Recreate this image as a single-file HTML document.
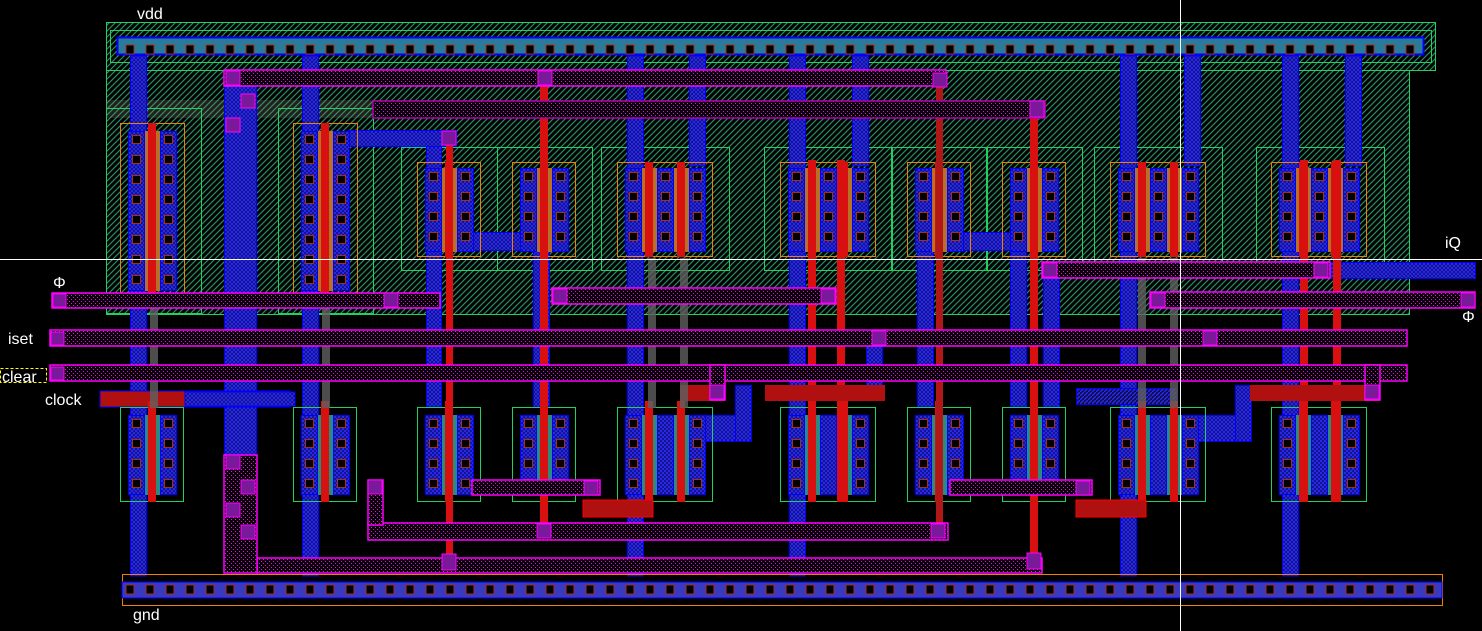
<!DOCTYPE html>
<html><head><meta charset="utf-8"><style>
html,body{margin:0;padding:0;background:#000;width:1482px;height:631px;overflow:hidden}
svg{display:block}
text{font-family:"Liberation Sans",sans-serif;fill:#fff;font-size:16px}
</style></head><body>
<svg width="1482" height="631" viewBox="0 0 1482 631" xmlns="http://www.w3.org/2000/svg">
<defs>
<pattern id="nw" width="6" height="6" patternUnits="userSpaceOnUse"><rect width="6" height="6" fill="#000"/><path d="M0,6L6,0M-1,1L1,-1M5,7L7,5" stroke="#2a8a62" stroke-width="1.2"/></pattern>
<pattern id="m1" width="4" height="4" patternUnits="userSpaceOnUse"><rect width="4" height="4" fill="#0c0c70"/><path d="M0,4L4,0M0,0L4,4" stroke="#2a2af0" stroke-width="1"/></pattern>
<pattern id="m2" width="4" height="4" patternUnits="userSpaceOnUse"><rect width="4" height="4" fill="#101050"/><path d="M0,4L4,0" stroke="#2a2aff" stroke-width="1.2"/></pattern>
<pattern id="mg" width="4" height="4" patternUnits="userSpaceOnUse"><rect width="4" height="4" fill="#000"/><rect x="1" y="1" width="1" height="1" fill="#f0f"/><rect x="3" y="3" width="1" height="1" fill="#f0f"/></pattern>
<pattern id="ct" width="20" height="20" patternUnits="userSpaceOnUse"><rect x="6" y="5" width="8" height="9" fill="#000" stroke="#a03020" stroke-width="1"/></pattern>

<g id="cc" fill="#000" stroke="#a03020">
<rect x="0.5" y="0.5" width="8" height="8"/><rect x="0.5" y="20.5" width="8" height="8"/><rect x="0.5" y="40.5" width="8" height="8"/><rect x="0.5" y="60.5" width="8" height="8"/>
</g>
<g id="cct" fill="#000" stroke="#a03020">
<rect x="0.5" y="0.5" width="8" height="8"/><rect x="0.5" y="20.5" width="8" height="8"/><rect x="0.5" y="40.5" width="8" height="8"/><rect x="0.5" y="60.5" width="8" height="8"/>
<rect x="0.5" y="80.5" width="8" height="8"/><rect x="0.5" y="100.5" width="8" height="8"/><rect x="0.5" y="120.5" width="8" height="8"/><rect x="0.5" y="140.5" width="8" height="8"/>
</g>

<g id="p1">
<rect x="0.5" y="0.5" width="63" height="94" fill="none" stroke="#f08000"/>
<rect x="8" y="6" width="48" height="84" fill="#b87028"/>
<rect x="8.5" y="6.5" width="16" height="83" fill="url(#m1)" stroke="#00f"/>
<rect x="40.5" y="6.5" width="16" height="83" fill="url(#m1)" stroke="#00f"/>
<use href="#cc" x="12" y="10"/><use href="#cc" x="44" y="10"/>
<rect x="28" y="0" width="8" height="95" fill="#d81010"/>
</g>
<g id="p2">
<rect x="0.5" y="0.5" width="95" height="94" fill="none" stroke="#f08000"/>
<rect x="8" y="6" width="80" height="84" fill="#b87028"/>
<rect x="8.5" y="6.5" width="16" height="83" fill="url(#m1)" stroke="#00f"/>
<rect x="40.5" y="6.5" width="16" height="83" fill="url(#m1)" stroke="#00f"/>
<rect x="72.5" y="6.5" width="16" height="83" fill="url(#m1)" stroke="#00f"/>
<use href="#cc" x="12" y="10"/><use href="#cc" x="44" y="10"/><use href="#cc" x="76" y="10"/>
<rect x="28" y="0" width="8" height="95" fill="#d81010"/>
<rect x="60" y="0" width="8" height="95" fill="#d81010"/>
</g>
<g id="pt">
<rect x="0.5" y="0.5" width="64" height="174" fill="none" stroke="#f08000"/>
<rect x="8" y="8" width="48" height="160" fill="#b87028"/>
<rect x="8.5" y="8.5" width="16" height="159" fill="url(#m1)" stroke="#00f"/>
<rect x="40.5" y="8.5" width="16" height="159" fill="url(#m1)" stroke="#00f"/>
<use href="#cct" x="12" y="12"/><use href="#cct" x="44" y="12"/>
<rect x="28" y="0" width="8" height="175" fill="#d81010"/>
</g>
<g id="n1">
<rect x="0.5" y="0.5" width="63" height="94" fill="none" stroke="#20d060"/>
<rect x="8" y="8" width="48" height="80" fill="#2a8a80"/>
<rect x="8.5" y="8.5" width="16" height="79" fill="url(#m1)" stroke="#00f"/>
<rect x="40.5" y="8.5" width="16" height="79" fill="url(#m1)" stroke="#00f"/>
<use href="#cc" x="12" y="12"/><use href="#cc" x="44" y="12"/>
<rect x="28" y="-6" width="8" height="101" fill="#d81010"/>
</g>
<g id="n2">
<rect x="0.5" y="0.5" width="95" height="94" fill="none" stroke="#20d060"/>
<rect x="8" y="8" width="80" height="80" fill="#2a8a80"/>
<rect x="8.5" y="8.5" width="16" height="79" fill="url(#m1)" stroke="#00f"/>
<rect x="40.5" y="8.5" width="16" height="79" fill="url(#m1)" stroke="#00f"/>
<rect x="72.5" y="8.5" width="16" height="79" fill="url(#m1)" stroke="#00f"/>
<use href="#cc" x="12" y="12"/><use href="#cc" x="76" y="12"/>
<rect x="28" y="-6" width="8" height="101" fill="#d81010"/>
<rect x="60" y="-6" width="8" height="101" fill="#d81010"/>
</g>
</defs>

<rect width="1482" height="631" fill="#000"/>

<rect x="106.5" y="70.5" width="1303" height="244" fill="url(#nw)" stroke="#20d060"/>
<rect x="106.5" y="22.5" width="1329" height="48" fill="url(#nw)" stroke="#20d060"/>
<rect x="110.5" y="30.5" width="1321" height="32" fill="none" stroke="#20d060"/>
<rect x="106" y="100" width="940" height="18" fill="#808070" opacity="0.25"/>
<g fill="none" stroke="#20d060">
<rect x="106.5" y="108.5" width="95" height="205"/>
<rect x="278.5" y="108.5" width="95" height="205"/>
<rect x="401.5" y="147.5" width="96" height="123"/>
<rect x="497.5" y="147.5" width="95" height="123"/>
<rect x="601.5" y="147.5" width="128" height="123"/>
<rect x="764.5" y="147.5" width="128" height="123"/>
<rect x="891.5" y="147.5" width="96" height="123"/>
<rect x="986.5" y="147.5" width="96" height="123"/>
<rect x="1094.5" y="147.5" width="128" height="126"/>
<rect x="1256.5" y="147.5" width="128" height="126"/>
</g>

<rect x="117.5" y="37.5" width="1306" height="17" fill="#2a7a9a" stroke="#00f" stroke-width="2"/>
<rect x="117" y="36" width="1306" height="20" fill="url(#ct)"/>

<g fill="url(#m1)" stroke="#00f">
<rect x="130.5" y="56" width="16" height="520"/>
<rect x="224.5" y="70" width="32" height="385"/>
<rect x="302.5" y="56" width="16" height="520"/>
<rect x="426.5" y="135" width="15" height="272"/>
<rect x="627.5" y="56" width="16" height="520"/>
<rect x="689.5" y="56" width="16" height="110"/>
<rect x="789.5" y="56" width="16" height="520"/>
<rect x="852.5" y="56" width="16" height="110"/>
<rect x="917.5" y="250" width="16" height="157"/>
<rect x="1010.5" y="250" width="16" height="157"/>
<rect x="1043.5" y="265" width="16" height="142"/>
<rect x="1120.5" y="56" width="16" height="520"/>
<rect x="1184.5" y="56" width="16" height="110"/>
<rect x="1282.5" y="56" width="16" height="520"/>
<rect x="1345.5" y="56" width="16" height="110"/>
<rect x="348.5" y="130.5" width="108" height="16"/>
<rect x="440.5" y="232.5" width="80" height="18"/>
<rect x="930.5" y="232.5" width="80" height="18"/>
<rect x="1330.5" y="262.5" width="145" height="16"/>
<rect x="700.5" y="415.5" width="50" height="26"/>
<rect x="735.5" y="385.5" width="16" height="56"/>
<rect x="1195.5" y="415.5" width="55" height="26"/>
<rect x="1235.5" y="385.5" width="16" height="56"/>
<rect x="533.5" y="250" width="16" height="157"/>
<rect x="1076.5" y="388.5" width="100" height="16" fill="url(#m2)"/>
<rect x="866.5" y="330" width="16" height="70"/>
</g>

<rect x="100" y="391" width="190" height="16" fill="#b01010" stroke="#00f"/>
<rect x="185" y="392" width="110" height="14" fill="url(#m1)" stroke="#00f"/>
<rect x="105" y="395" width="200" height="8" fill="url(#ct)"/>

<use href="#pt" x="120" y="123"/>
<use href="#pt" x="293" y="123"/>
<use href="#p1" x="417" y="162"/>
<use href="#p1" x="512" y="162"/>
<use href="#p2" x="617" y="162"/>
<use href="#p2" x="780" y="162"/>
<use href="#p1" x="907" y="162"/>
<use href="#p1" x="1002" y="162"/>
<use href="#p2" x="1110" y="162"/>
<use href="#p2" x="1271" y="162"/>
<use href="#n1" x="120" y="407"/>
<use href="#n1" x="293" y="407"/>
<use href="#n1" x="417" y="407"/>
<use href="#n1" x="512" y="407"/>
<use href="#n2" x="617" y="407"/>
<use href="#n2" x="780" y="407"/>
<use href="#n1" x="907" y="407"/>
<use href="#n1" x="1002" y="407"/>
<use href="#n2" x="1110" y="407"/>
<use href="#n2" x="1271" y="407"/>

<g fill="#d81010">
<rect x="540" y="78" width="8" height="460"/>
<rect x="808" y="160" width="8" height="342"/>
<rect x="837" y="160" width="8" height="342"/>
<rect x="1030" y="108" width="8" height="455"/>
<rect x="1300" y="160" width="8" height="342"/>
<rect x="1333" y="160" width="8" height="342"/>
<rect x="446" y="135" width="7" height="428"/>
<rect x="936" y="78" width="7" height="462" fill="#b01818"/>
<rect x="583" y="500" width="70" height="17" fill="#b01010" stroke="#f00"/>
<rect x="1076" y="500" width="70" height="17" fill="#b01010" stroke="#f00"/>
<rect x="680" y="385" width="45" height="16" fill="#b01010"/>
<rect x="765" y="385" width="120" height="16" fill="#b01010"/>
<rect x="1250" y="385" width="130" height="16" fill="#b01010"/>
</g>
<g fill="#606060" opacity="0.8">
<rect x="150" y="298" width="8" height="110"/>
<rect x="322" y="298" width="8" height="110"/>
<rect x="648" y="258" width="8" height="150"/>
<rect x="680" y="258" width="8" height="150"/>
<rect x="1138" y="258" width="8" height="150"/>
<rect x="1170" y="258" width="8" height="150"/>
</g>

<g fill="url(#mg)" stroke="#f0f" stroke-width="1.5">
<rect x="224" y="70" width="722" height="16"/>
<rect x="373" y="101" width="672" height="17" stroke="#a0a"/>
<rect x="52" y="293" width="388" height="15"/>
<rect x="552" y="288" width="284" height="16"/>
<rect x="1042" y="262" width="288" height="16"/>
<rect x="1150" y="292" width="325" height="16"/>
<rect x="50" y="330" width="1357" height="16"/>
<rect x="50" y="365" width="1357" height="16"/>
<rect x="368" y="523" width="580" height="17"/>
<rect x="257" y="558" width="785" height="15"/>
<rect x="224" y="455" width="33" height="118"/>
<rect x="368" y="480" width="15" height="45"/>
<rect x="472" y="480" width="128" height="15"/>
<rect x="950" y="480" width="142" height="15"/>
<rect x="710" y="365" width="15" height="35"/>
<rect x="1365" y="365" width="15" height="35"/>
</g>
<g fill="#7a1a9a" stroke="#f0f">
<rect x="53" y="294" width="13" height="13"/>
<rect x="51" y="332" width="13" height="13"/>
<rect x="51" y="367" width="13" height="13"/>
<rect x="538" y="71" width="14" height="14"/>
<rect x="933" y="73" width="14" height="14"/>
<rect x="1030" y="101" width="14" height="16"/>
<rect x="442" y="131" width="14" height="14"/>
<rect x="226" y="71" width="14" height="14"/>
<rect x="226" y="118" width="14" height="14"/>
<rect x="241" y="94" width="14" height="14"/>
<rect x="384" y="293" width="14" height="14"/>
<rect x="553" y="289" width="14" height="14"/>
<rect x="821" y="289" width="14" height="14"/>
<rect x="872" y="331" width="14" height="14"/>
<rect x="1203" y="331" width="14" height="14"/>
<rect x="1043" y="263" width="14" height="14"/>
<rect x="1314" y="263" width="14" height="14"/>
<rect x="1151" y="293" width="14" height="14"/>
<rect x="1461" y="293" width="14" height="14"/>
<rect x="226" y="455" width="14" height="14"/>
<rect x="241" y="480" width="14" height="14"/>
<rect x="226" y="503" width="14" height="14"/>
<rect x="241" y="525" width="14" height="14"/>
<rect x="368" y="480" width="14" height="14"/>
<rect x="584" y="481" width="14" height="14"/>
<rect x="1076" y="481" width="14" height="14"/>
<rect x="537" y="524" width="14" height="14"/>
<rect x="931" y="524" width="14" height="14"/>
<rect x="442" y="554" width="14" height="16"/>
<rect x="1027" y="553" width="14" height="16"/>
<rect x="710" y="385" width="14" height="14"/>
<rect x="1365" y="385" width="14" height="14"/>
</g>

<rect x="122.5" y="574.5" width="1320" height="31" fill="none" stroke="#f08000"/>
<rect x="122" y="582" width="1320" height="16" fill="#3a3ac0" stroke="#00f"/>
<rect x="125" y="580" width="1315" height="20" fill="url(#ct)"/>

<line x1="0" y1="259.5" x2="1482" y2="259.5" stroke="#fff" stroke-width="1"/>
<line x1="1180.5" y1="0" x2="1180.5" y2="631" stroke="#fff" stroke-width="1"/>

<text x="137" y="19">vdd</text>
<text x="133" y="620">gnd</text>
<text x="8" y="344">iset</text>
<text x="2" y="382">clear</text>
<rect x="0.5" y="368.5" width="46" height="14" fill="none" stroke="#ff0" stroke-dasharray="3,2"/>
<text x="45" y="405">clock</text>
<text x="1445" y="248">iQ</text>
<text x="53" y="288">Φ</text>
<text x="1462" y="322">Φ</text>
</svg>
</body></html>
